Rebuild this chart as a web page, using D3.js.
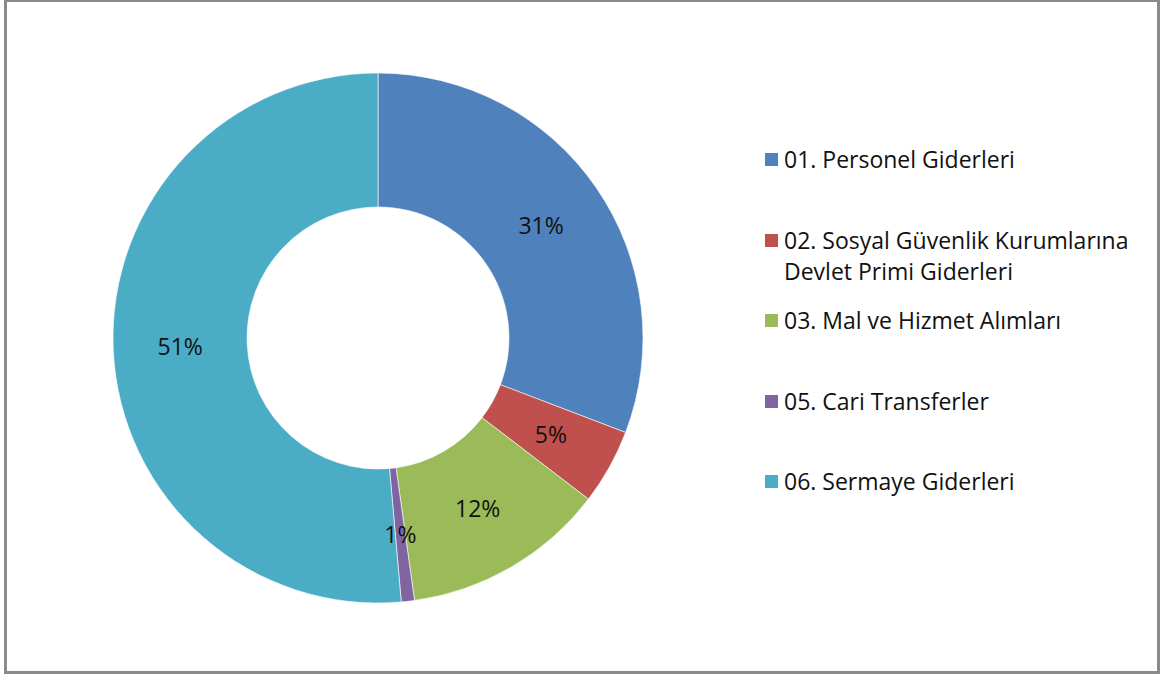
<!DOCTYPE html>
<html>
<head>
<meta charset="utf-8">
<script src="https://cdn.jsdelivr.net/npm/d3@7"></script>
<style>
  html, body { margin: 0; padding: 0; background: #fff; }
  svg { display: block; }
</style>
</head>
<body>
<svg id="chart" width="1160" height="677"></svg>
<script>
// chart data
var categories = [
  "01. Personel Giderleri",
  "02. Sosyal Güvenlik Kurumlarına Devlet Primi Giderleri",
  "03. Mal ve Hizmet Alımları",
  "05. Cari Transferler",
  "06. Sermaye Giderleri"
];
// legend text as it wraps in the picture
var legendLines = [
  ["01. Personel Giderleri"],
  ["02. Sosyal Güvenlik Kurumlarına", "Devlet Primi Giderleri"],
  ["03. Mal ve Hizmet Alımları"],
  ["05. Cari Transferler"],
  ["06. Sermaye Giderleri"]
];
var shares = [30.8, 4.6, 12.4, 0.8, 51.4];
var labels = ["31%", "5%", "12%", "1%", "51%"];
var colors = ["#4F81BD", "#C0504D", "#9BBB59", "#8064A2", "#4BACC6"];

var svg = d3.select("#chart");

// frame
svg.append("rect")
  .attr("x", 5.5).attr("y", 0.5)
  .attr("width", 1153).attr("height", 672)
  .attr("fill", "#fff")
  .attr("stroke", "#8a8a8a")
  .attr("stroke-width", 3);

var cx = 378, cy = 338;
var outerR = 265, innerR = 131;

var data = categories.map(function(c, i) {
  return { name: c, value: shares[i], label: labels[i], color: colors[i] };
});

var pie = d3.pie().sort(null).value(function(d) { return d.value; });
var arc = d3.arc().innerRadius(innerR).outerRadius(outerR);
var labelArc = d3.arc().innerRadius((innerR + outerR) / 2).outerRadius((innerR + outerR) / 2);

var g = svg.append("g").attr("transform", "translate(" + cx + "," + cy + ")");
var arcs = pie(data);

g.selectAll(".slice")
  .data(arcs)
  .enter().append("path")
  .attr("class", "slice")
  .attr("d", arc)
  .attr("fill", function(d) { return d.data.color; })
  .attr("stroke", "#fff")
  .attr("stroke-width", 0.6);

// labels on top of all slices
g.selectAll(".label")
  .data(arcs)
  .enter().append("text")
  .attr("class", "label")
  .attr("transform", function(d) { return "translate(" + labelArc.centroid(d) + ")"; })
  .attr("text-anchor", "middle")
  .attr("dy", "0.35em")
  .attr("fill", "#111")
  .attr("style", "font-family: 'Open Sans'; font-size: 23px")
  .text(function(d) { return d.data.label; });

// legend
var legendX = 765, rowY = [160, 241, 321, 402, 482], lineH = 31;
var legend = svg.append("g").attr("class", "legend");

var items = legend.selectAll(".item")
  .data(data)
  .enter().append("g")
  .attr("class", "item")
  .attr("transform", function(d, i) { return "translate(" + legendX + "," + rowY[i] + ")"; });

items.append("rect")
  .attr("x", 0).attr("y", -7)
  .attr("width", 13).attr("height", 13)
  .attr("fill", function(d) { return d.color; });

items.each(function(d, i) {
  var t = d3.select(this).append("text")
    .attr("x", 19)
    .attr("fill", "#111")
    .attr("style", "font-family: 'Open Sans'; font-size: 23px");
  legendLines[i].forEach(function(line, j) {
    t.append("tspan")
      .attr("x", 19)
      .attr("y", 8 + j * lineH)
      .text(line);
  });
});
</script>
</body>
</html>
